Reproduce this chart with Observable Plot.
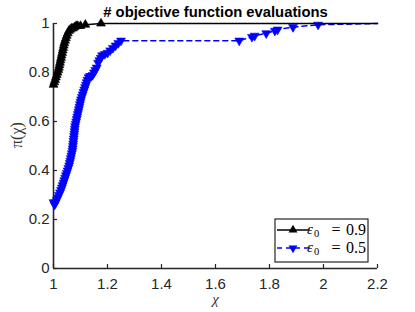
<!DOCTYPE html>
<html><head><meta charset="utf-8">
<script src="https://cdn.jsdelivr.net/npm/d3@7"></script>
<script src="https://cdn.jsdelivr.net/npm/@observablehq/plot@0.6"></script>
<style>body{margin:0;background:#fff}</style>
</head><body><div id="chart"></div>
<script>
// ---- data ----
const titleText = "# objective function evaluations";
const xLabel = "χ";
const yLabel = "π(χ)";
const xTicks = [1, 1.2, 1.4, 1.6, 1.8, 2, 2.2];
const yTicks = [0, 0.2, 0.4, 0.6, 0.8, 1];
const seriesNames = ["0.9", "0.5"];

// eps0 = 0.9 (black, up triangles)
const blackX = [1.000,1.003,1.006,1.009,1.012,1.015,1.018,1.020,1.022,1.024,1.026,1.028,1.030,1.032,1.034,1.036,1.038,1.040,1.043,1.046,1.049,1.053,1.057,1.062,1.067,1.072,1.078,1.084,1.090,1.100,1.118,1.176];
const blackY = [0.75,0.76,0.77,0.78,0.79,0.80,0.81,0.82,0.83,0.84,0.85,0.86,0.87,0.88,0.89,0.90,0.91,0.92,0.93,0.94,0.95,0.96,0.97,0.975,0.98,0.98,0.985,0.99,0.99,0.99,0.995,1.0];
const blackEnd = [2.2, 1.0];

// eps0 = 0.5 (blue, down triangles)
const blueX = [1.000,1.004,1.008,1.012,1.016,1.020,1.024,1.028,1.031,1.034,1.037,1.040,1.043,1.046,1.049,1.052,1.055,1.058,1.060,1.062,1.064,1.066,1.068,1.070,1.071,1.072,1.073,1.074,1.075,1.076,1.077,1.078,1.079,1.080,1.082,1.084,1.086,1.088,1.090,1.092,1.094,1.096,1.098,1.100,1.102,1.105,1.108,1.111,1.114,1.117,1.120,1.123,1.126,1.130,1.135,1.140,1.145,1.150,1.155,1.160,1.165,1.170,1.175,1.180,1.190,1.200,1.210,1.220,1.230,1.240,1.250,1.688,1.735,1.745,1.788,1.820,1.830,1.887,1.980];
const blueY = [0.27,0.26,0.27,0.28,0.29,0.30,0.31,0.32,0.33,0.34,0.35,0.36,0.37,0.38,0.39,0.40,0.41,0.42,0.43,0.44,0.45,0.46,0.47,0.48,0.49,0.50,0.51,0.52,0.53,0.54,0.55,0.56,0.57,0.58,0.59,0.60,0.61,0.62,0.63,0.64,0.65,0.66,0.67,0.68,0.69,0.70,0.71,0.72,0.73,0.74,0.75,0.76,0.77,0.78,0.785,0.785,0.79,0.80,0.81,0.82,0.84,0.85,0.86,0.87,0.875,0.88,0.89,0.90,0.91,0.92,0.93,0.93,0.945,0.95,0.96,0.97,0.975,0.985,0.995];
const blueEnd = [2.2, 1.0];

// ---- build tables ----
const blackPts = blackX.map((x, i) => ({x, y: blackY[i]}));
const bluePts = blueX.map((x, i) => ({x, y: blueY[i]}));
const blackLine = [...blackPts, {x: blackEnd[0], y: blackEnd[1]}];
const blueLine = [...bluePts, {x: blueEnd[0], y: blueEnd[1]}];

const W = 415, H = 312, mL = 53, mR = 38, mT = 23, mB = 44;
const plotW = W - mL - mR, plotH = H - mT - mB;
const axisColor = "#262626";
const BLUE = "#0000ff";

const chart = Plot.plot({
  width: W, height: H,
  marginLeft: mL, marginRight: mR, marginTop: mT, marginBottom: mB,
  style: {fontFamily: "'Liberation Sans', Arial, sans-serif", fontSize: "15px", color: axisColor, background: "#fff"},
  x: {domain: [xTicks[0], xTicks[xTicks.length - 1]]},
  y: {domain: [yTicks[0], yTicks[yTicks.length - 1]]},
  marks: [
    Plot.axisX({ticks: xTicks, tickSize: 0, tickPadding: 10, tickFormat: d => String(d), label: null, fill: axisColor}),
    Plot.axisY({ticks: yTicks, tickSize: 0, tickPadding: 4, tickFormat: d => String(d), label: null, fill: axisColor}),
    Plot.tickX(xTicks, {x: d => d, insetTop: plotH - 4, stroke: axisColor, strokeWidth: 1.2}),
    Plot.tickY(yTicks, {y: d => d, insetRight: plotW - 4, stroke: axisColor, strokeWidth: 1.2}),
    Plot.ruleX([xTicks[0]], {stroke: axisColor, strokeWidth: 1.6}),
    Plot.ruleY([yTicks[0]], {stroke: axisColor, strokeWidth: 1.6}),
    Plot.line(blueLine, {x: "x", y: "y", stroke: BLUE, strokeWidth: 1.5, strokeDasharray: "5 4"}),
    Plot.dot(bluePts, {x: "x", y: "y", symbol: "triangle", r: 3.3, fill: BLUE, stroke: BLUE, strokeWidth: 0.6, rotate: 180}),
    Plot.line(blackLine, {x: "x", y: "y", stroke: "#000", strokeWidth: 1.5}),
    Plot.dot(blackPts, {x: "x", y: "y", symbol: "triangle", r: 3.3, fill: "#000", stroke: "#000", strokeWidth: 0.6}),
    Plot.text([titleText], {text: d => d, frameAnchor: "top", lineAnchor: "middle", dy: -11, fontWeight: "bold", fontSize: 14.8, fill: "#000"}),
    Plot.text([yLabel], {text: d => d, frameAnchor: "left", lineAnchor: "middle", dx: -37, dy: 2, rotate: -90, fontFamily: "'Liberation Serif', serif", fontSize: 16, fill: "#333"}),
    Plot.text([xLabel], {text: d => d, frameAnchor: "bottom", lineAnchor: "middle", dy: 31, fontFamily: "'Liberation Serif', serif", fontStyle: "italic", fontSize: 15, fill: "#333"})
  ]
});

document.getElementById("chart").appendChild(chart);

// ---- legend ----
const svg = d3.select(chart);
const lg = svg.append("g").attr("class", "legend");
const bx = 275, by = 219, bw = 93, bh = 43;
lg.append("rect").attr("x", bx).attr("y", by).attr("width", bw).attr("height", bh)
  .attr("fill", "#fff").attr("stroke", axisColor).attr("stroke-width", 1.2);
const rows = [
  {name: seriesNames[0], color: "#000", dash: null, rot: 0, y: by + 11},
  {name: seriesNames[1], color: BLUE, dash: "5 4", rot: 180, y: by + 29}
];
const tri = d3.symbol(d3.symbolTriangle, Math.PI * 3.3 * 3.3)();
rows.forEach(r => {
  lg.append("line").attr("x1", bx + 2).attr("x2", bx + 34).attr("y1", r.y).attr("y2", r.y)
    .attr("stroke", r.color).attr("stroke-width", 1.5).attr("stroke-dasharray", r.dash);
  lg.append("path").attr("d", tri).attr("fill", r.color)
    .attr("transform", `translate(${bx + 18},${r.y}) rotate(${r.rot})`);
  const t = lg.append("g").attr("font-family", "'Liberation Serif', serif").attr("fill", "#000");
  t.append("text").attr("x", bx + 35).attr("y", r.y + 4).attr("font-size", 15).attr("font-style", "italic").text("ε");
  t.append("text").attr("x", bx + 41.5).attr("y", r.y + 7).attr("font-size", 10.5).text("0");
  t.append("text").attr("x", bx + 61).attr("y", r.y + 5).attr("font-size", 16).attr("text-anchor", "middle").text("=");
  t.append("text").attr("x", bx + 91).attr("y", r.y + 5).attr("font-size", 16).attr("text-anchor", "end").text(r.name);
});
</script>
</body></html>
